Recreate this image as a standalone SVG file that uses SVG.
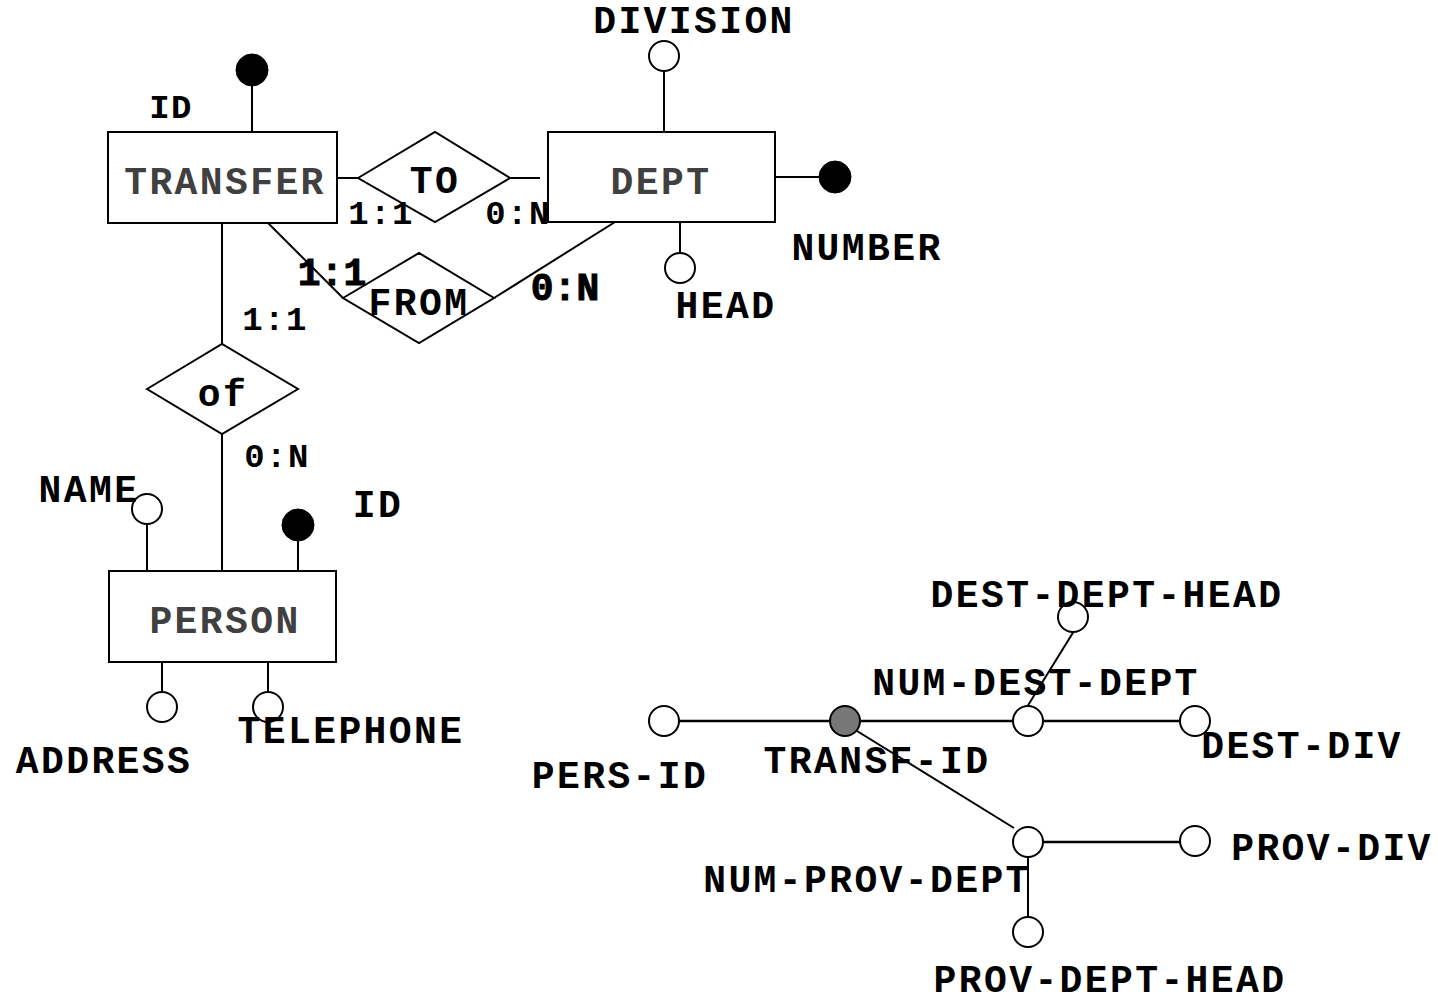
<svg xmlns="http://www.w3.org/2000/svg" width="1438" height="1005" viewBox="0 0 1438 1005">
<style>
text{font-family:"Liberation Mono","Courier New",monospace;font-weight:bold;fill:#000;text-anchor:middle}
.ent{fill:#404040;font-size:38px;letter-spacing:2.4px}
.lbl{font-size:38px;letter-spacing:2.4px}
.card{font-size:34px;letter-spacing:1.4px}
.bcard{font-size:38px;stroke:#000;stroke-width:1}
.box{fill:#fff;stroke:#000;stroke-width:2}
.ln{stroke:#000;stroke-width:2;fill:none}
.thick{stroke:#000;stroke-width:2.6;fill:none}
.att{fill:#fff;stroke:#000;stroke-width:2}
.key{fill:#000;stroke:#000;stroke-width:1}
.gkey{fill:#777;stroke:#000;stroke-width:2}
</style>
<rect width="1438" height="1005" fill="#fff"/>
<g id="connectors">
<line class="ln" x1="252" y1="86" x2="252" y2="132"/>
<line class="ln" x1="337" y1="178" x2="358" y2="178"/>
<line class="ln" x1="510" y1="178" x2="540" y2="178"/>
<line class="ln" x1="664" y1="71" x2="664" y2="132"/>
<line class="ln" x1="775" y1="177" x2="819" y2="177"/>
<line class="ln" x1="680" y1="222" x2="680" y2="253"/>
<line class="ln" x1="268" y1="223" x2="343" y2="298"/>
<line class="ln" x1="494" y1="298" x2="615" y2="222"/>
<line class="ln" x1="222" y1="223" x2="222" y2="344"/>
<line class="ln" x1="222" y1="434" x2="222" y2="571"/>
<line class="ln" x1="147" y1="524" x2="147" y2="570"/>
<line class="ln" x1="298" y1="541" x2="298" y2="570"/>
<line class="ln" x1="162" y1="662" x2="162" y2="692"/>
<line class="ln" x1="268" y1="662" x2="268" y2="692"/>
<line class="thick" x1="679" y1="721" x2="1180" y2="721"/>
<line class="ln" x1="1027" y1="707" x2="1074" y2="631"/>
<line class="ln" x1="857" y1="731" x2="1014" y2="828"/>
<line class="thick" x1="1043" y1="842" x2="1180" y2="842"/>
<line class="ln" x1="1028" y1="857" x2="1028" y2="917"/>
</g>
<g id="TRANSFER"><rect class="box" x="108" y="132" width="229" height="91"/><text class="ent" x="225" y="194">TRANSFER</text></g>
<g id="DEPT"><rect class="box" x="548" y="132" width="227" height="90"/><text class="ent" x="661" y="194">DEPT</text></g>
<g id="PERSON"><rect class="box" x="109" y="571" width="227" height="91"/><text class="ent" x="225" y="633">PERSON</text></g>
<g id="TO"><polygon class="box" points="358,178 435,132 510,178 435,222"/><text class="lbl" x="435" y="193">TO</text></g>
<g id="FROM"><polygon class="box" points="343,298 419,253 494,298 419,343"/><text class="lbl" x="419" y="315">FROM</text></g>
<g id="of"><polygon class="box" points="147,389 222,344 298,389 222,434"/><text class="lbl" x="223" y="406">of</text></g>
<g id="TRANSFER-ID"><circle class="key" cx="252" cy="70" r="16"/><text class="card" x="171" y="118">ID</text></g>
<g id="DIVISION"><circle class="att" cx="664" cy="56" r="15"/><text class="lbl" x="694" y="33">DIVISION</text></g>
<g id="NUMBER"><circle class="key" cx="835" cy="177" r="16"/><text class="lbl" x="867" y="260">NUMBER</text></g>
<g id="HEAD"><circle class="att" cx="680" cy="268" r="15"/><text class="lbl" x="726" y="318">HEAD</text></g>
<g id="NAME"><circle class="att" cx="147" cy="509" r="15"/><text class="lbl" x="89" y="502">NAME</text></g>
<g id="PERSON-ID"><circle class="key" cx="298" cy="525" r="16"/><text class="lbl" x="378" y="517">ID</text></g>
<g id="ADDRESS"><circle class="att" cx="162" cy="707" r="15"/><text class="lbl" x="104" y="773">ADDRESS</text></g>
<g id="TELEPHONE"><circle class="att" cx="268" cy="707" r="15"/><text class="lbl" x="351" y="743">TELEPHONE</text></g>
<g id="cardinalities">
<text class="card" x="381" y="224">1:1</text>
<text class="card" x="518" y="224">0:N</text>
<text class="bcard" x="332" y="285">1:1</text>
<text class="bcard" x="565" y="300">0:N</text>
<text class="card" x="275" y="330">1:1</text>
<text class="card" x="277" y="467">0:N</text>
</g>
<g id="PERS-ID"><circle class="att" cx="664" cy="721" r="15"/><text class="lbl" x="620" y="788">PERS-ID</text></g>
<g id="TRANSF-ID"><circle class="gkey" cx="845" cy="721" r="15"/><text class="lbl" x="877" y="773">TRANSF-ID</text></g>
<g id="NUM-DEST-DEPT"><circle class="att" cx="1028" cy="721" r="15"/><text class="lbl" x="1036" y="695">NUM-DEST-DEPT</text></g>
<g id="DEST-DIV"><circle class="att" cx="1195" cy="721" r="15"/><text class="lbl" x="1302" y="758">DEST-DIV</text></g>
<g id="DEST-DEPT-HEAD"><circle class="att" cx="1073" cy="617" r="15"/><text class="lbl" x="1107" y="607">DEST-DEPT-HEAD</text></g>
<g id="NUM-PROV-DEPT"><circle class="att" cx="1028" cy="842" r="15"/><text class="lbl" x="867" y="892">NUM-PROV-DEPT</text></g>
<g id="PROV-DIV"><circle class="att" cx="1195" cy="841" r="15"/><text class="lbl" x="1332" y="860">PROV-DIV</text></g>
<g id="PROV-DEPT-HEAD"><circle class="att" cx="1028" cy="932" r="15"/><text class="lbl" x="1110" y="992">PROV-DEPT-HEAD</text></g>
</svg>
